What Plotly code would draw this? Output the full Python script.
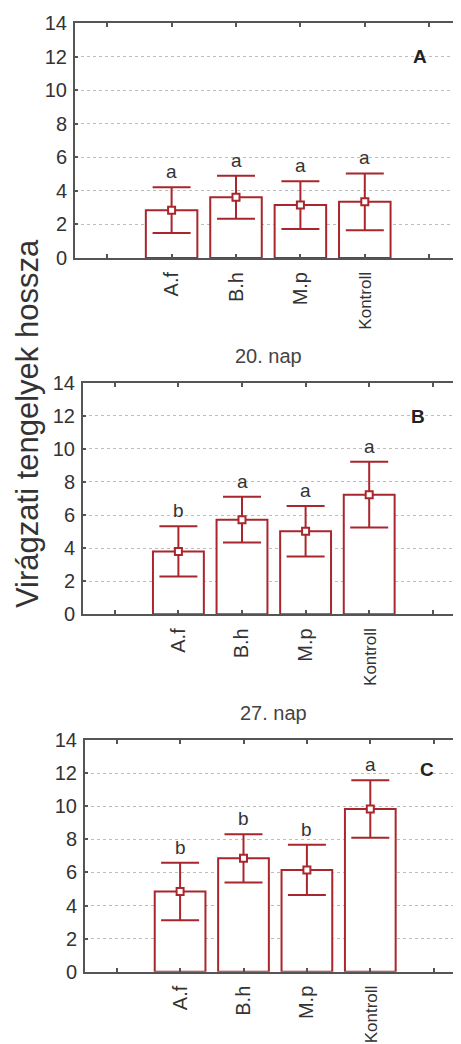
import plotly.graph_objects as go

categories = ["A.f", "B.h", "M.p", "Kontroll"]
tick_labels = ["", "A.f", "B.h", "M.p", "<span style='font-size:17px'>Kontroll</span>", ""]
y_ticks = [0, 2, 4, 6, 8, 10, 12, 14]

means_A = [2.85, 3.62, 3.15, 3.35]
err_A = [1.36, 1.28, 1.42, 1.69]
letters_A = ["a", "a", "a", "a"]

means_B = [3.80, 5.72, 5.02, 7.23]
err_B = [1.52, 1.38, 1.53, 1.99]
letters_B = ["b", "a", "a", "a"]

means_C = [4.85, 6.85, 6.15, 9.83]
err_C = [1.74, 1.46, 1.52, 1.74]
letters_C = ["b", "b", "b", "a"]

panel_names = ["A", "B", "C"]
panel_titles = ["", "20. nap", "27. nap"]
y_title = "Virágzati tengelyek hossza"

RED = "#a8262c"
AX = "#555555"
TXT = "#333333"
FONT = "Liberation Sans"
OFF = 8  # default page body margin
W, H = 461 - OFF, 1044 - OFF


def px(v):
    return (v - OFF) / W


def py(v):
    return 1 - (v - OFF) / H


panels = [
    dict(means=means_A, err=err_A, letters=letters_A, ytop=23, ybot=258, xleft=75, step=64.4, lab=(4.86, 12.0)),
    dict(means=means_B, err=err_B, letters=letters_B, ytop=382.7, ybot=614.3, xleft=83, step=63.6, lab=(4.76, 11.93)),
    dict(means=means_C, err=err_C, letters=letters_C, ytop=740, ybot=971.7, xleft=85, step=63.4, lab=(4.89, 12.2)),
]

fig = go.Figure()
xpos = list(range(1, len(categories) + 1))
annotations = []

for i, p in enumerate(panels):
    n = "" if i == 0 else str(i + 1)
    xa, ya = "x" + n, "y" + n
    fig.add_trace(go.Bar(
        x=xpos, y=p["means"], width=0.8, xaxis=xa, yaxis=ya,
        marker=dict(color="white", line=dict(color=RED, width=2)),
        showlegend=False, hoverinfo="skip"))
    fig.add_trace(go.Scatter(
        x=xpos, y=p["means"], mode="markers", xaxis=xa, yaxis=ya,
        marker=dict(symbol="square", size=7, color="white", line=dict(color=RED, width=2)),
        error_y=dict(type="data", array=p["err"], color=RED, thickness=2, width=19),
        showlegend=False, hoverinfo="skip"))
    for xv, m, e, t in zip(xpos, p["means"], p["err"], p["letters"]):
        annotations.append(dict(x=xv, y=m + e, xref=xa, yref=ya, text=t, showarrow=False,
                                xanchor="center", yanchor="bottom", yshift=3,
                                font=dict(family=FONT, size=19, color=TXT)))
    annotations.append(dict(x=p["lab"][0], y=p["lab"][1], xref=xa, yref=ya,
                            text="<b>" + panel_names[i] + "</b>", showarrow=False,
                            xanchor="center", yanchor="middle",
                            font=dict(family=FONT, size=19, color="#222222")))
    xrange_end = -0.5 + (461 - p["xleft"]) / p["step"]
    fig.update_layout(**{
        "xaxis" + n: dict(domain=[px(p["xleft"]), 1], range=[-0.5, xrange_end],
                          tickmode="array", tickvals=list(range(6)), ticktext=tick_labels,
                          tickangle=-90, ticks="inside", ticklen=4, tickwidth=2, tickcolor=AX,
                          showline=True, linecolor=AX, linewidth=2, mirror="ticks",
                          showgrid=False, zeroline=False, anchor=ya, automargin=False,
                          ticklabelstandoff=4,
                          tickfont=dict(family=FONT, size=20, color=TXT)),
        "yaxis" + n: dict(domain=[py(p["ybot"]), py(p["ytop"])], range=[0, 14],
                          tickmode="array", tickvals=y_ticks,
                          ticks="inside", ticklen=3, tickwidth=2, tickcolor=AX,
                          showline=True, linecolor=AX, linewidth=2, mirror=False,
                          showgrid=True, gridcolor="#bdbdbd", griddash="dot", gridwidth=1,
                          zeroline=False, anchor=xa, automargin=False,
                          ticklabelstandoff=2,
                          tickfont=dict(family=FONT, size=20, color=TXT)),
    })

annotations.append(dict(x=px(268), y=py(356), xref="paper", yref="paper", text=panel_titles[1],
                        xanchor="center", yanchor="middle",
                        showarrow=False, font=dict(family=FONT, size=20, color="#444444")))
annotations.append(dict(x=px(273), y=py(712.7), xref="paper", yref="paper", text=panel_titles[2],
                        xanchor="center", yanchor="middle",
                        showarrow=False, font=dict(family=FONT, size=20, color="#444444")))
annotations.append(dict(x=px(27), y=py(424), xref="paper", yref="paper", text=y_title,
                        xanchor="center", yanchor="middle",
                        textangle=-90, showarrow=False, font=dict(family=FONT, size=31, color=TXT)))

fig.update_layout(width=W, height=H, margin=dict(l=0, r=0, t=0, b=0, autoexpand=False),
                  paper_bgcolor="white", plot_bgcolor="white",
                  annotations=annotations, bargap=0.2)

fig.write_html("out.html")
